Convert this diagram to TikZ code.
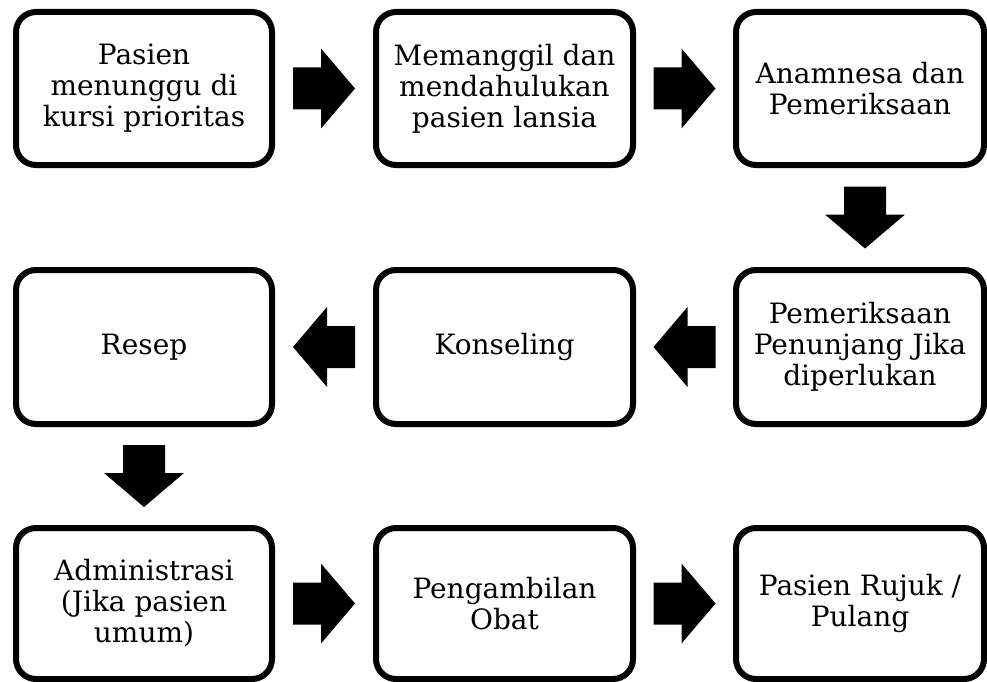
\documentclass[tikz,border=0pt]{standalone}
\usepackage{fontspec}
\setmainfont{DejaVu Serif}
\usetikzlibrary{calc}
\tikzset{
  kotak/.style={draw, line width=6pt, rounded corners=20pt, minimum width=256pt, minimum height=153pt, align=center, inner sep=0pt, font=\fontsize{28}{31}\selectfont},
  panah/.pic={\fill (-31,-21) -- (-3,-21) -- (-3,-40) -- (31,0) -- (-3,40) -- (-3,21) -- (-31,21) -- cycle;}
}
\begin{document}
\begin{tikzpicture}[x=1pt,y=-1pt]
\useasboundingbox (0,0) rectangle (987,682);
\node[kotak] (k1) at (144,88.5) {Pasien\\menunggu di\\kursi prioritas};
\node[kotak,minimum width=257pt] (k2) at (504.5,88.5) {Memanggil dan\\mendahulukan\\pasien lansia};
\node[kotak,minimum width=248pt] (k3) at (860,88.5) {Anamnesa dan\\Pemeriksaan};
\node[kotak,minimum width=248pt,minimum height=154pt] (k4) at (860,347) {Pemeriksaan\\Penunjang Jika\\diperlukan};
\node[kotak,minimum width=257pt,minimum height=154pt] (k5) at (504.5,347) {Konseling};
\node[kotak,minimum height=154pt] (k6) at (144,347) {Resep};
\node[kotak,minimum height=151pt] (k7) at (144,603.5) {Administrasi\\(Jika pasien\\umum)};
\node[kotak,minimum width=257pt,minimum height=151pt] (k8) at (504.5,603.5) {Pengambilan\\Obat};
\node[kotak,minimum width=248pt,minimum height=151pt] (k9) at (860,603.5) {Pasien Rujuk /\\Pulang};
\pic at ($(k1.east)!.5!(k2.west)$) {panah};
\pic at ($(k2.east)!.5!(k3.west)$) {panah};
\pic[rotate=-90] at ($(k3.south)!.5!(k4.north)+(5,0)$) {panah};
\pic[rotate=180] at ($(k4.west)!.5!(k5.east)$) {panah};
\pic[rotate=180] at ($(k5.west)!.5!(k6.east)$) {panah};
\pic[rotate=-90] at ($(k6.south)!.5!(k7.north)$) {panah};
\pic at ($(k7.east)!.5!(k8.west)$) {panah};
\pic at ($(k8.east)!.5!(k9.west)$) {panah};
\end{tikzpicture}
\end{document}
